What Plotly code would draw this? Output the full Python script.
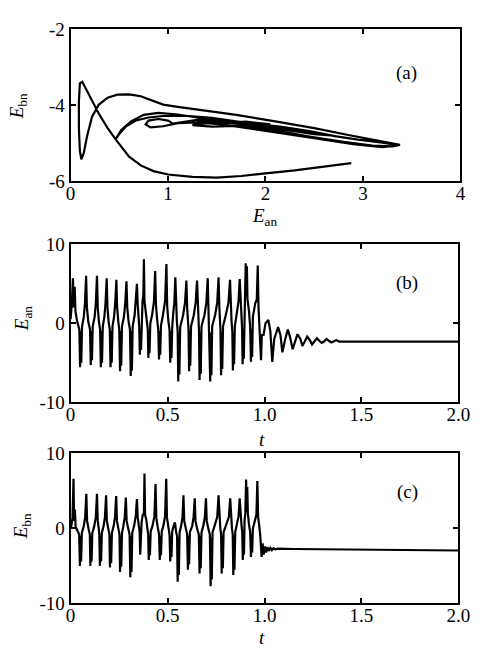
import plotly.graph_objects as go

# ---------------- data ----------------
# (a) phase trajectory: E_an (x) vs E_bn (y)
traj_an = [2.88, 2.6, 2.3, 2.0, 1.75, 1.5, 1.25, 1.0, 0.85, 0.72, 0.6, 0.47, 0.38, 0.29, 0.21, 0.15, 0.12, 0.095,
           0.085, 0.085, 0.095, 0.11, 0.135, 0.17, 0.22, 0.29, 0.38, 0.48, 0.6, 0.72, 0.84, 0.95, 1.1, 1.35, 1.7,
           2.1, 2.5, 2.85, 3.15, 3.32, 3.38, 3.3, 3.1, 2.8, 2.45, 2.1, 1.75, 1.4, 1.1, 0.9, 0.75, 0.62, 0.52, 0.46,
           0.5, 0.57, 0.67, 0.8, 0.95, 1.15, 1.45, 1.8, 2.2, 2.6, 2.95, 3.2, 3.36, 3.2, 2.9, 2.55, 2.2, 1.85, 1.55,
           1.3, 1.1, 0.95, 0.82, 0.77, 0.8, 0.9, 1.0, 1.05, 1.15, 1.3, 1.55, 1.85, 2.15, 2.45, 2.7, 2.5, 2.2, 1.9,
           1.6, 1.4, 1.25, 1.45, 1.7, 1.95, 2.2, 2.0, 1.75, 1.5, 1.3, 1.55, 1.8, 2.05, 1.7]
traj_bn = [-5.52, -5.62, -5.71, -5.79, -5.86, -5.9, -5.88, -5.82, -5.73, -5.58, -5.35, -4.92, -4.6, -4.22, -3.82,
           -3.5, -3.38, -3.42, -3.9, -4.6, -5.2, -5.42, -5.25, -4.8, -4.3, -3.98, -3.8, -3.72, -3.71, -3.76, -3.88,
           -3.98, -4.04, -4.12, -4.25, -4.42, -4.6, -4.78, -4.92, -5.0, -5.04, -5.08, -5.06, -4.96, -4.82, -4.66,
           -4.5, -4.36, -4.24, -4.2, -4.25, -4.42, -4.65, -4.9, -4.75, -4.55, -4.4, -4.32, -4.28, -4.27, -4.33,
           -4.46, -4.62, -4.78, -4.9, -4.98, -5.05, -5.1, -5.02, -4.88, -4.74, -4.6, -4.5, -4.45, -4.47, -4.55,
           -4.58, -4.5, -4.4, -4.36, -4.4, -4.48, -4.44, -4.38, -4.4, -4.48, -4.56, -4.68, -4.8, -4.76, -4.64,
           -4.53, -4.45, -4.47, -4.52, -4.56, -4.54, -4.6, -4.68, -4.62, -4.5, -4.42, -4.42, -4.47, -4.43, -4.5,
           -4.47]

# (b) E_an(t): (t, value) points
b_pts = [
    (0.000, 0.5), (0.006, 2.4), (0.012, 5.7), (0.016, 2.0), (0.021, 4.6), (0.025, 1.5), (0.034, 0.2), (0.045, -0.8),
    (0.049, -5.6), (0.052, -1.0), (0.055, -5.0), (0.059, -0.4),
    (0.068, 0.8), (0.074, 2.5), (0.080, 6.0), (0.084, 2.0), (0.091, 0.2), (0.100, -0.8), (0.104, -5.3), (0.107, -1.0),
    (0.110, -4.7), (0.114, -0.4),
    (0.124, 0.8), (0.130, 2.5), (0.136, 6.0), (0.140, 2.0), (0.146, 0.2), (0.152, -0.8), (0.156, -5.6), (0.159, -1.0),
    (0.162, -5.0), (0.166, -0.4),
    (0.174, 0.8), (0.180, 2.5), (0.186, 5.7), (0.190, 2.0), (0.196, 0.2), (0.202, -0.8), (0.206, -5.6), (0.209, -1.0),
    (0.212, -5.0), (0.216, -0.4),
    (0.224, 0.8), (0.230, 2.5), (0.236, 5.5), (0.240, 2.0), (0.246, 0.2), (0.251, -0.8), (0.255, -6.1), (0.258, -1.0),
    (0.261, -5.4), (0.265, -0.4),
    (0.275, 0.8), (0.282, 2.6), (0.288, 5.3), (0.292, 2.0), (0.299, 0.2), (0.306, -0.8), (0.310, -6.7), (0.313, -1.0),
    (0.316, -6.0), (0.320, -0.4),
    (0.330, 1.0), (0.336, 2.8), (0.342, 5.0), (0.346, 2.4), (0.350, 0.8), (0.354, -0.5), (0.357, -4.0), (0.360, -0.8),
    (0.363, -3.4), (0.367, 0.5),
    (0.371, 2.8), (0.375, 3.5), (0.378, 8.1), (0.381, 2.8), (0.386, 1.5), (0.394, 0.0), (0.398, -0.8), (0.401, -4.4),
    (0.404, -1.0), (0.407, -3.8), (0.411, 0.0),
    (0.420, 1.0), (0.430, 2.8), (0.436, 6.6), (0.440, 2.4), (0.446, 0.5), (0.452, -0.8), (0.456, -4.6), (0.459, -1.0),
    (0.462, -4.0), (0.466, -0.3),
    (0.476, 1.0), (0.487, 2.8), (0.494, 7.5), (0.498, 2.2), (0.504, 0.3), (0.510, -0.8), (0.514, -5.0), (0.517, -1.0),
    (0.520, -4.4), (0.524, -0.5),
    (0.530, 1.5), (0.535, 2.6), (0.540, 5.8), (0.544, 2.0), (0.548, 0.2), (0.552, -1.0), (0.555, -7.4), (0.558, -1.2),
    (0.561, -6.5), (0.565, -0.5),
    (0.580, 1.0), (0.590, 2.6), (0.597, 5.4), (0.601, 2.0), (0.605, 0.2), (0.608, -0.8), (0.611, -6.1), (0.614, -1.0),
    (0.617, -5.4), (0.621, -0.4),
    (0.635, 1.0), (0.645, 2.6), (0.652, 5.4), (0.656, 2.0), (0.659, 0.2), (0.662, -1.0), (0.665, -7.2), (0.668, -1.2),
    (0.671, -6.4), (0.675, -0.4),
    (0.690, 1.0), (0.700, 2.6), (0.707, 5.7), (0.711, 2.0), (0.714, 0.2), (0.717, -1.0), (0.720, -7.4), (0.723, -1.2),
    (0.726, -6.6), (0.730, -0.4),
    (0.745, 1.0), (0.756, 2.6), (0.763, 5.8), (0.767, 2.0), (0.770, 0.2), (0.773, -1.0), (0.776, -6.6), (0.779, -1.2),
    (0.782, -5.8), (0.786, -0.4),
    (0.800, 1.0), (0.814, 2.6), (0.822, 5.5), (0.826, 2.0), (0.830, 0.2), (0.834, -1.0), (0.837, -6.0), (0.840, -1.2),
    (0.843, -5.2), (0.847, -0.4),
    (0.858, 1.2), (0.866, 2.8), (0.872, 5.6), (0.876, 3.0), (0.880, 1.5), (0.884, -0.5), (0.887, -5.2), (0.890, -0.8),
    (0.893, -4.5), (0.896, 1.0),
    (0.900, 3.2), (0.903, 7.6), (0.906, 3.5), (0.909, 7.2), (0.912, 3.0), (0.920, 1.5), (0.926, -0.5), (0.930, -4.9),
    (0.933, -0.8), (0.936, -4.3), (0.940, 0.8),
    (0.952, 2.5), (0.960, 3.0), (0.965, 7.3), (0.969, 2.0), (0.974, -1.0), (0.979, -1.8), (0.982, -4.7), (0.986, -1.5),
    (0.995, -1.5), (1.005, 0.0), (1.020, 0.4), (1.030, -1.0), (1.040, -4.9), (1.050, -2.0), (1.070, -0.5),
    (1.082, -1.5), (1.092, -3.7), (1.105, -2.2), (1.120, -0.8), (1.132, -1.8), (1.145, -3.3), (1.158, -2.3),
    (1.170, -1.4), (1.185, -2.0), (1.195, -2.9), (1.208, -2.3), (1.220, -1.7), (1.235, -2.2), (1.245, -2.7),
    (1.258, -2.3), (1.270, -1.9), (1.285, -2.3), (1.295, -2.5), (1.308, -2.3), (1.320, -2.0), (1.335, -2.3),
    (1.345, -2.45), (1.358, -2.3), (1.370, -2.15), (1.385, -2.33), (1.450, -2.33), (2.000, -2.33),
]

# (c) E_bn(t): (t, value) points
c_pts = [
    (0.000, 0.0), (0.005, 0.5), (0.010, 1.5), (0.015, 6.6), (0.018, 1.0), (0.022, 2.5), (0.026, 0.2), (0.034, -0.2),
    (0.044, -0.8), (0.048, -5.0), (0.051, -1.0), (0.054, -4.4), (0.058, -0.6),
    (0.068, 0.3), (0.075, 1.5), (0.081, 4.6), (0.085, 1.0), (0.092, 0.0), (0.099, -0.8), (0.102, -5.0), (0.105, -1.0),
    (0.108, -4.4), (0.112, -0.6),
    (0.122, 0.3), (0.130, 1.5), (0.136, 4.6), (0.140, 1.0), (0.145, 0.0), (0.148, -0.8), (0.151, -5.0), (0.154, -1.0),
    (0.157, -4.4), (0.161, -0.6),
    (0.170, 0.3), (0.177, 1.5), (0.183, 4.4), (0.187, 1.0), (0.194, 0.0), (0.200, -0.8), (0.203, -5.2), (0.206, -1.0),
    (0.209, -4.6), (0.213, -0.6),
    (0.222, 0.3), (0.229, 1.5), (0.235, 4.3), (0.239, 1.0), (0.246, 0.0), (0.252, -0.8), (0.255, -5.8), (0.258, -1.0),
    (0.261, -5.1), (0.265, -0.6),
    (0.272, 0.3), (0.279, 1.5), (0.285, 4.1), (0.289, 1.0), (0.297, 0.0), (0.304, -0.8), (0.308, -6.5), (0.311, -1.0),
    (0.314, -5.8), (0.318, -0.6),
    (0.328, 0.4), (0.336, 1.7), (0.342, 3.9), (0.346, 1.5), (0.352, 0.3), (0.356, -0.5), (0.359, -3.5), (0.362, -0.6),
    (0.366, 0.8), (0.372, 1.8),
    (0.378, 2.0), (0.381, 7.3), (0.384, 1.8), (0.390, 1.2), (0.396, 0.0), (0.400, -0.8), (0.403, -4.2), (0.406, -1.0),
    (0.409, -3.6), (0.413, -0.4),
    (0.422, 0.3), (0.432, 1.6), (0.438, 5.9), (0.442, 1.4), (0.449, 0.2), (0.456, -0.8), (0.460, -4.2), (0.463, -1.0),
    (0.466, -3.6), (0.470, -0.4),
    (0.478, 0.3), (0.487, 1.6), (0.493, 6.6), (0.497, 1.4), (0.504, 0.2), (0.510, -0.8), (0.514, -4.4), (0.517, -1.0),
    (0.520, -3.8), (0.524, -0.4),
    (0.532, 0.4), (0.538, 0.8), (0.545, -0.6), (0.549, -1.0), (0.552, -7.1), (0.555, -1.2), (0.558, -6.2),
    (0.562, -0.5),
    (0.570, 0.3), (0.577, 1.5), (0.582, 4.4), (0.586, 1.0), (0.594, 0.0), (0.601, -0.8), (0.605, -5.5), (0.608, -1.0),
    (0.611, -4.8), (0.615, -0.5),
    (0.627, 0.3), (0.634, 1.5), (0.640, 4.0), (0.644, 1.0), (0.652, 0.0), (0.661, -0.8), (0.665, -6.0), (0.668, -1.0),
    (0.671, -5.3), (0.675, -0.5),
    (0.684, 0.3), (0.692, 1.5), (0.698, 4.0), (0.702, 1.0), (0.710, 0.0), (0.718, -0.8), (0.722, -7.7), (0.725, -1.2),
    (0.728, -6.8), (0.732, -0.5),
    (0.742, 0.3), (0.756, 1.5), (0.763, 4.4), (0.767, 1.0), (0.772, 0.0), (0.776, -0.8), (0.779, -6.0), (0.782, -1.0),
    (0.785, -5.3), (0.789, -0.5),
    (0.800, 0.3), (0.816, 1.5), (0.823, 4.0), (0.827, 1.0), (0.832, 0.0), (0.836, -0.8), (0.839, -6.2), (0.842, -1.0),
    (0.845, -5.5), (0.849, -0.5),
    (0.858, 0.5), (0.866, 1.6), (0.872, 4.0), (0.876, 2.0), (0.881, 0.5), (0.885, -0.5), (0.888, -4.2), (0.891, -0.8),
    (0.894, -3.5), (0.897, 1.0),
    (0.901, 2.0), (0.905, 6.5), (0.908, 2.2), (0.911, 5.5), (0.914, 2.0), (0.920, 0.5), (0.926, -0.5), (0.930, -3.8),
    (0.933, -0.8), (0.936, -3.2), (0.940, 0.0),
    (0.950, 1.0), (0.958, 1.8), (0.963, 6.3), (0.967, 1.5), (0.972, 0.5), (0.978, -1.0), (0.985, -3.8), (0.990, -2.0),
    (0.996, -3.5), (1.002, -2.4), (1.008, -3.2), (1.015, -2.5), (1.022, -3.0), (1.030, -2.6), (1.038, -2.9),
    (1.046, -2.65), (1.055, -2.8), (1.070, -2.7), (1.150, -2.75), (1.300, -2.8), (1.600, -2.85), (2.000, -2.95),
]

a_xticks = [0, 1, 2, 3, 4]
a_yticks = [-6, -4, -2]
a_yticklabels = ["-6", "-4", "-2"]
t_ticks = [0, 0.5, 1.0, 1.5, 2.0]
t_ticklabels = ["0", "0.5", "1.0", "1.5", "2.0"]
e_ticks = [-10, 0, 10]
e_ticklabels = ["-10", "0", "10"]
panel_labels = ["(a)", "(b)", "(c)"]

# ---------------- figure ----------------
W, H = 483, 657
FONT = "Liberation Serif"
LW = 2.2

b_t = [p[0] for p in b_pts]
b_v = [p[1] for p in b_pts]
c_t = [p[0] for p in c_pts]
c_v = [p[1] for p in c_pts]

fig = go.Figure()
line = dict(color="black", width=LW)
fig.add_trace(go.Scatter(x=traj_an, y=traj_bn, mode="lines", line=line, xaxis="x", yaxis="y"))
fig.add_trace(go.Scatter(x=b_t, y=b_v, mode="lines", line=line, xaxis="x2", yaxis="y2"))
fig.add_trace(go.Scatter(x=c_t, y=c_v, mode="lines", line=line, xaxis="x3", yaxis="y3"))


def px_x(a, b):
    return [a / W, b / W]


def px_y(top, bottom):
    return [1 - bottom / H, 1 - top / H]


axis_common = dict(showline=True, linecolor="black", linewidth=2, mirror="ticks", ticks="inside",
                   ticklen=5, tickwidth=1.5, tickcolor="black", showgrid=False, zeroline=False,
                   tickfont=dict(family=FONT, size=19, color="black"))
xextra = dict(ticklabelstandoff=-6)

fig.update_layout(
    width=W, height=H, margin=dict(l=0, r=0, t=0, b=0),
    paper_bgcolor="white", plot_bgcolor="white", showlegend=False,
    xaxis=dict(domain=px_x(68, 472), range=[0, 4], tickvals=a_xticks, anchor="y", **axis_common, **xextra),
    yaxis=dict(domain=px_y(20, 177), range=[-6, -2], tickvals=a_yticks, ticktext=a_yticklabels, anchor="x",
               **axis_common),
    xaxis2=dict(domain=px_x(68, 470), range=[0, 2], tickvals=t_ticks, ticktext=t_ticklabels, anchor="y2",
                **axis_common, **xextra),
    yaxis2=dict(domain=px_y(242, 405), range=[-10, 10], tickvals=e_ticks, ticktext=e_ticklabels, anchor="x2",
                **axis_common),
    xaxis3=dict(domain=px_x(68, 470), range=[0, 2], tickvals=t_ticks, ticktext=t_ticklabels, anchor="y3",
                **axis_common, **xextra),
    yaxis3=dict(domain=px_y(458, 613), range=[-10, 10], tickvals=e_ticks, ticktext=e_ticklabels, anchor="x3",
                **axis_common),
)

tfont = dict(family=FONT, size=19, color="black")
ann = []
# panel labels (data coordinates)
ann.append(dict(x=3.45, y=-3.15, xref="x", yref="y", text=panel_labels[0], showarrow=False, font=tfont))
ann.append(dict(x=1.735, y=5.1, xref="x2", yref="y2", text=panel_labels[1], showarrow=False, font=tfont))
ann.append(dict(x=1.735, y=4.8, xref="x3", yref="y3", text=panel_labels[2], showarrow=False, font=tfont))


# axis titles
def pa(text, xp, yp, angle=0):
    return dict(x=xp / W, y=1 - yp / H, xref="paper", yref="paper", text=text, showarrow=False,
                font=tfont, textangle=angle, xanchor="center", yanchor="middle")


ann.append(pa("<i>E</i><sub>an</sub>", 270, 214))
ann.append(pa("<i>E</i><sub>bn</sub>", 13, 100, -90))
ann.append(pa("<i>t</i>", 266, 444))
ann.append(pa("<i>E</i><sub>an</sub>", 19, 318, -90))
ann.append(pa("<i>t</i>", 266, 648))
ann.append(pa("<i>E</i><sub>bn</sub>", 18, 533, -90))
fig.update_layout(annotations=ann)

fig.write_html("out.html")
